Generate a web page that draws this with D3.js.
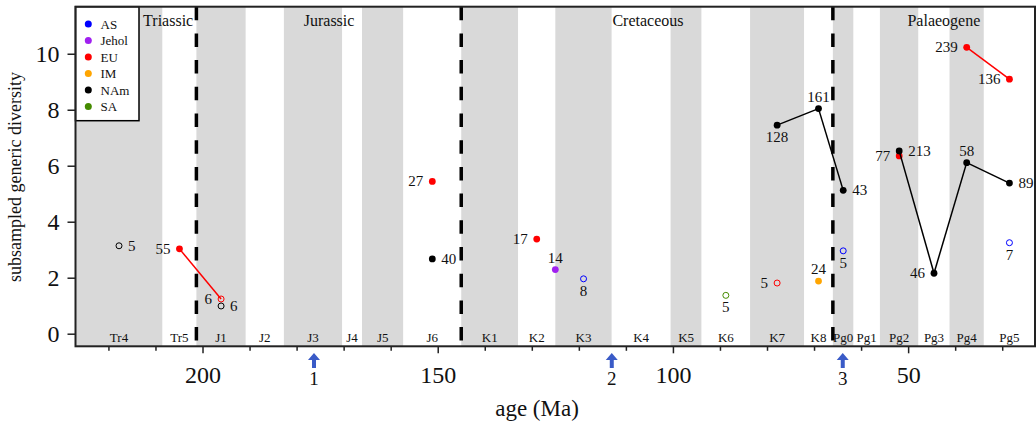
<!DOCTYPE html>
<html>
<head>
<meta charset="utf-8">
<script src="https://cdn.jsdelivr.net/npm/d3@7"></script>
<style>
body { margin: 0; background: white; }
text { font-family: "Liberation Serif", "Times New Roman", serif; }
</style>
</head>
<body>
<script>
//global variables

// time bins (names, start and end ages in Ma)
const binNames = ["Tr4", "Tr5", "J1", "J2", "J3", "J4", "J5", "J6", "K1", "K2", "K3", "K4", "K5", "K6", "K7", "K8", "Pg0", "Pg1", "Pg2", "Pg3", "Pg4", "Pg5"];
const binStarts = [227, 208.5, 201.3, 190.8, 182.7, 170.3, 166.1, 157.3, 145, 132.9, 125, 113, 100.5, 93.9, 83.6, 72.1, 66, 61.6, 56, 47.8, 41.2, 33.9];
const binEnds = [208.5, 201.3, 190.8, 182.7, 170.3, 166.1, 157.3, 145, 132.9, 125, 113, 100.5, 93.9, 83.6, 72.1, 66, 61.6, 56, 47.8, 41.2, 33.9, 23.03];

// periods and the boundaries between them
const periodNames = ["Triassic", "Jurassic", "Cretaceous", "Palaeogene"];
const periodLabelAges = [207.3, 173.1, 105.3, 42.4];
const periodBoundaries = [201.3, 145, 66];

// axis ticks
const majorTicks = [200, 150, 100, 50];
const minorTicks = [220, 210, 190, 180, 170, 160, 140, 130, 120, 110, 90, 80, 70, 60, 40, 30];
const yTicks = [0, 2, 4, 6, 8, 10];

// numbered arrows under the axis
const arrowAges = [176.3, 113, 63.9];
const arrowLabels = ["1", "2", "3"];

// regions for the legend
const regions = ["AS", "Jehol", "EU", "IM", "NAm", "SA"];
const regionColors = ["#0000ff", "#a020f0", "#ff0000", "#ffa500", "#000000", "#458b00"];

// North America
const nAmBins = ["Tr4", "J1", "J6", "K7", "K8", "Pg0", "Pg2", "Pg3", "Pg4", "Pg5"];
const nAmValues = [3.14, 0.99, 2.67, 7.45, 8.04, 5.12, 6.53, 2.16, 6.11, 5.38];
const nAmCounts = [5, 6, 40, 128, 161, 43, 213, 46, 58, 89];
const nAmLabelPos = ["r", "r", "r", "b", "a", "r", "r", "l", "a", "r"];

// Europe
const euBins = ["Tr5", "J1", "J6", "K2", "K7", "Pg2", "Pg4", "Pg5"];
const euValues = [3.03, 1.24, 5.44, 3.38, 1.81, 6.35, 10.23, 9.09];
const euCounts = [55, 6, 27, 17, 5, 77, 239, 136];
const euLabelPos = ["l", "l", "l", "l", "l", "l", "l", "l"];

// Asia
const asBins = ["K3", "Pg0", "Pg5"];
const asValues = [1.96, 2.96, 3.25];
const asCounts = [8, 5, 7];
const asLabelPos = ["b", "b", "b"];

// Jehol biota (plotted at its own age, not a bin midpoint)
const jeholAges = [125];
const jeholValues = [2.29];
const jeholCounts = [14];
const jeholLabelPos = ["a"];

// India-Madagascar
const imBins = ["K8"];
const imValues = [1.88];
const imCounts = [24];
const imLabelPos = ["a"];

// South America
const saBins = ["K6"];
const saValues = [1.37];
const saCounts = [5];
const saLabelPos = ["b"];

// defines size of the picture
const width = 1036;
const height = 424;

// scales
let x = d3.scaleLinear().domain([227, 23.03]).range([75.5, 1035]);
let y = d3.scaleLinear().domain([-0.45, 11.68]).range([346.3, 6.7]);

let binMid = function(name) {
    let i = binNames.indexOf(name);
    return (binStarts[i] + binEnds[i]) / 2;
};

// sets up canvas
let c = d3.select("body").append("svg")
    .attr("width", width)
    .attr("height", height);

// this is the alternating grey shading of the bins
c.append("g").selectAll("rect")
    .data(binNames)
    .join("rect")
    .attr("x", (d, i) => x(binStarts[i]))
    .attr("y", y(11.68))
    .attr("width", (d, i) => x(binEnds[i]) - x(binStarts[i]))
    .attr("height", y(-0.45) - y(11.68))
    .attr("fill", (d, i) => i % 2 === 0 ? "#d9d9d9" : "white");

// bin names along the bottom
c.append("g").selectAll("text")
    .data(binNames)
    .join("text")
    .attr("x", (d, i) => x((binStarts[i] + binEnds[i]) / 2))
    .attr("y", 342)
    .attr("text-anchor", "middle")
    .attr("font-size", 13)
    .attr("fill", "#111")
    .text(d => d);

// period names at the top
c.append("g").selectAll("text")
    .data(periodNames)
    .join("text")
    .attr("x", (d, i) => x(periodLabelAges[i]))
    .attr("y", 26)
    .attr("text-anchor", "middle")
    .attr("font-size", 16)
    .attr("fill", "#111")
    .text(d => d);

// dashed period boundaries
c.append("g").selectAll("line")
    .data(periodBoundaries)
    .join("line")
    .attr("x1", d => x(d))
    .attr("x2", d => x(d))
    .attr("y1", y(11.68))
    .attr("y2", 350)
    .attr("stroke", "black")
    .attr("stroke-width", 3.5)
    .attr("stroke-dasharray", "13.5,13.2");

// draws one region: connecting lines, points and sample size labels
let drawSeries = function(ages, values, counts, labelPos, bins, color) {
    let g = c.append("g");

    // lines only join points in neighbouring bins
    for (let i = 1; i < ages.length; i++) {
        if (bins && binNames.indexOf(bins[i]) - binNames.indexOf(bins[i - 1]) === 1) {
            g.append("line")
                .attr("x1", x(ages[i - 1]))
                .attr("y1", y(values[i - 1]))
                .attr("x2", x(ages[i]))
                .attr("y2", y(values[i]))
                .attr("stroke", color)
                .attr("stroke-width", 1.5);
        }
    }

    // small samples are drawn as open circles
    g.selectAll("circle")
        .data(values)
        .join("circle")
        .attr("cx", (d, i) => x(ages[i]))
        .attr("cy", d => y(d))
        .attr("r", (d, i) => counts[i] < 10 ? 3 : 3.4)
        .attr("fill", (d, i) => counts[i] < 10 ? "none" : color)
        .attr("stroke", color)
        .attr("stroke-width", (d, i) => counts[i] < 10 ? 1 : 0);

    g.selectAll("text")
        .data(counts)
        .join("text")
        .attr("x", (d, i) => {
            let p = labelPos[i];
            return x(ages[i]) + (p === "r" ? 9 : p === "l" ? -9 : 0);
        })
        .attr("y", (d, i) => {
            let p = labelPos[i];
            return y(values[i]) + (p === "a" ? -7 : p === "b" ? 17 : 5);
        })
        .attr("text-anchor", (d, i) => labelPos[i] === "r" ? "start" : labelPos[i] === "l" ? "end" : "middle")
        .attr("font-size", 15)
        .attr("fill", "#111")
        .text(d => d);
};

drawSeries(euBins.map(binMid), euValues, euCounts, euLabelPos, euBins, regionColors[2]);
drawSeries(nAmBins.map(binMid), nAmValues, nAmCounts, nAmLabelPos, nAmBins, regionColors[4]);
drawSeries(asBins.map(binMid), asValues, asCounts, asLabelPos, asBins, regionColors[0]);
drawSeries(jeholAges, jeholValues, jeholCounts, jeholLabelPos, null, regionColors[1]);
drawSeries(imBins.map(binMid), imValues, imCounts, imLabelPos, imBins, regionColors[3]);
drawSeries(saBins.map(binMid), saValues, saCounts, saLabelPos, saBins, regionColors[5]);

// this is the legend
let legend = c.append("g");
legend.append("rect")
    .attr("x", 75.5)
    .attr("y", 6.7)
    .attr("width", 63.5)
    .attr("height", 114)
    .attr("fill", "white")
    .attr("stroke", "black")
    .attr("stroke-width", 1.5);

legend.selectAll("circle")
    .data(regions)
    .join("circle")
    .attr("cx", 88.3)
    .attr("cy", (d, i) => 24 + i * 16.5)
    .attr("r", 3.5)
    .attr("fill", (d, i) => regionColors[i]);

legend.selectAll("text")
    .data(regions)
    .join("text")
    .attr("x", 100.5)
    .attr("y", (d, i) => 28.5 + i * 16.5)
    .attr("font-size", 13)
    .attr("fill", "#111")
    .text(d => d);

// this is the frame round the plot
c.append("rect")
    .attr("x", 75.5)
    .attr("y", 6.7)
    .attr("width", 1035 - 75.5)
    .attr("height", 346.3 - 6.7)
    .attr("fill", "none")
    .attr("stroke", "#222")
    .attr("stroke-width", 2);

// y axis
let yAxis = c.append("g")
    .attr("transform", "translate(75.5,0)")
    .call(d3.axisLeft(y).tickValues(yTicks).tickSize(8).tickPadding(8));
yAxis.select(".domain").remove();
yAxis.selectAll("line").attr("stroke", "#222").attr("stroke-width", 1.5);
yAxis.selectAll("text")
    .attr("font-family", "Liberation Serif")
    .attr("font-size", 24)
    .attr("fill", "#111");

// x axis, big ticks with labels and small ticks without
let xMinor = c.append("g")
    .attr("transform", "translate(0,346.3)")
    .call(d3.axisBottom(x).tickValues(minorTicks).tickSize(4.5).tickFormat(""));
xMinor.select(".domain").remove();
xMinor.selectAll("line").attr("stroke", "#222").attr("stroke-width", 1.5);

let xAxis = c.append("g")
    .attr("transform", "translate(0,346.3)")
    .call(d3.axisBottom(x).tickValues(majorTicks).tickSize(7).tickPadding(13));
xAxis.select(".domain").remove();
xAxis.selectAll("line").attr("stroke", "#222").attr("stroke-width", 1.5);
xAxis.selectAll("text")
    .attr("font-family", "Liberation Serif")
    .attr("font-size", 24)
    .attr("fill", "#111");

// numbered blue arrows
let arrows = c.append("g").selectAll("g")
    .data(arrowAges)
    .join("g")
    .attr("transform", d => "translate(" + x(d) + ",0)");

arrows.append("path")
    .attr("d", "M0,353 L6,360 L2,360 L2,368 L-2,368 L-2,360 L-6,360 Z")
    .attr("fill", "#3a5bc7");

arrows.append("text")
    .attr("x", 0)
    .attr("y", 385)
    .attr("text-anchor", "middle")
    .attr("font-size", 19)
    .attr("fill", "#111")
    .text((d, i) => arrowLabels[i]);

// axis titles
c.append("text")
    .attr("x", 537)
    .attr("y", 416)
    .attr("text-anchor", "middle")
    .attr("font-size", 23)
    .attr("fill", "#111")
    .text("age (Ma)");

c.append("text")
    .attr("transform", "translate(21,177) rotate(-90)")
    .attr("text-anchor", "middle")
    .attr("font-size", 18)
    .attr("fill", "#111")
    .text("subsampled generic diversity");
</script>
</body>
</html>
